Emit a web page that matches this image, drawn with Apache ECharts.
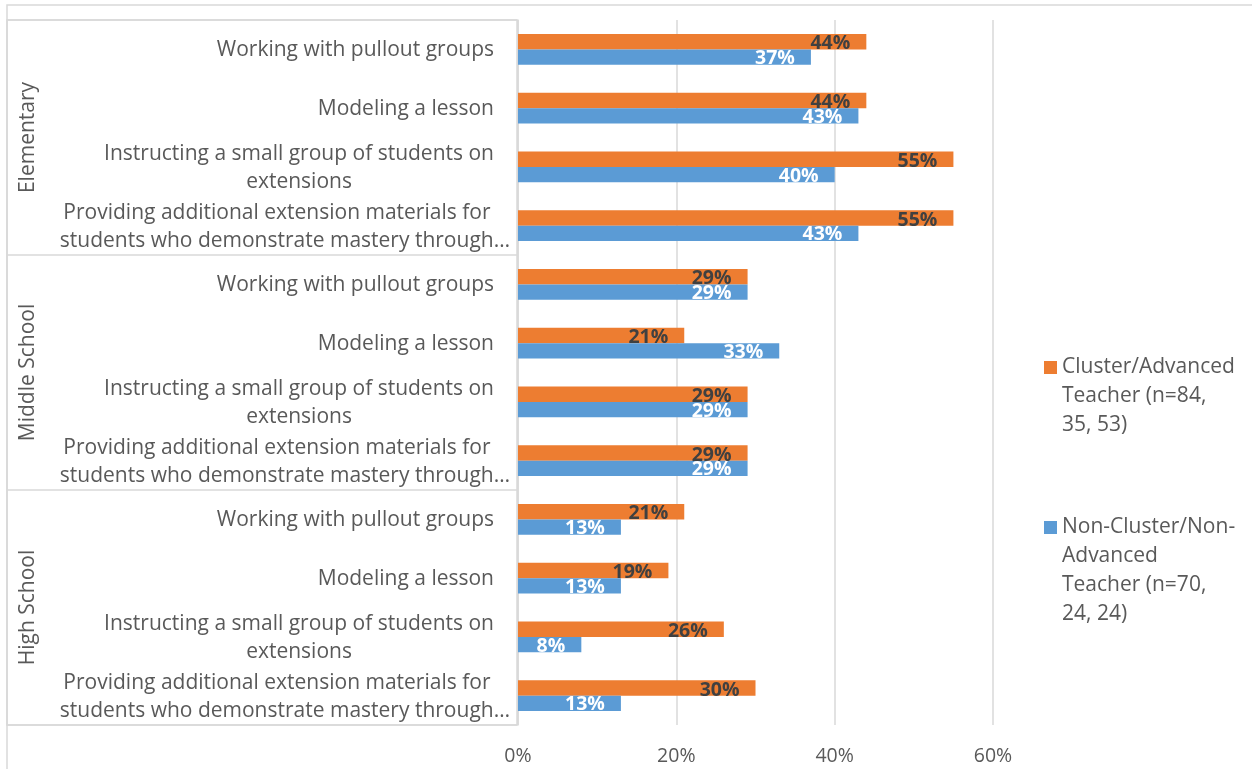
<!DOCTYPE html>
<html><head><meta charset="utf-8">
<script src="https://cdn.jsdelivr.net/npm/echarts@6/dist/echarts.min.js"></script>
<style>html,body{margin:0;padding:0;background:#fff}#c{width:1252px;height:769px}</style>
</head><body><div id="c"></div>
<script>
const categories = [
  'Working with pullout groups',
  'Modeling a lesson',
  'Instructing a small group of students on\nextensions',
  'Providing additional extension materials for\nstudents who demonstrate mastery through…',
  'Working with pullout groups',
  'Modeling a lesson',
  'Instructing a small group of students on\nextensions',
  'Providing additional extension materials for\nstudents who demonstrate mastery through…',
  'Working with pullout groups',
  'Modeling a lesson',
  'Instructing a small group of students on\nextensions',
  'Providing additional extension materials for\nstudents who demonstrate mastery through…'
];
const groups = ['Elementary', 'Middle School', 'High School'];
const seriesNames = ['Cluster/Advanced Teacher (n=84, 35, 53)', 'Non-Cluster/Non-Advanced Teacher (n=70, 24, 24)'];
const legendLabels = ['Cluster/Advanced\nTeacher (n=84,\n35, 53)', 'Non-Cluster/Non-\nAdvanced\nTeacher (n=70,\n24, 24)'];
const clusterValues = [44, 44, 55, 55, 29, 21, 29, 29, 21, 19, 26, 30];
const nonClusterValues = [37, 43, 40, 43, 29, 33, 29, 29, 13, 13, 8, 13];
const xTicks = { min: 0, max: 60, interval: 20 };

const FONT = 'Open Sans';
const TXT = '#595959';
const GRIDC = '#d9d9d9';
const LH = 29;
const chart = echarts.init(document.getElementById('c'), null, { renderer: 'canvas' });
function lines(s) { return s.split('\n').length; }
// first text line of each legend entry sits level with its square, as in the source
function legendText(name) {
  const t = legendLabels[seriesNames.indexOf(name)];
  return '\n'.repeat(lines(t) - 1) + t;
}
// truncated lines (ending in …) spill a little past the label box, as in the source
function catText(v) {
  return v.split('\n').map(s => (s.endsWith('…') ? '{e|' : '{c|') + s + '}').join('\n');
}
const catStyle = { align: 'center', color: TXT, fontSize: 21, fontFamily: FONT, lineHeight: 28, padding: [2, 0, 0, 0] };
const option = {
  animation: false,
  textStyle: { fontFamily: FONT },
  graphic: [{
    type: 'rect', silent: true, z: -10,
    shape: { x: 7, y: 5, width: 1400, height: 900 },
    style: { fill: 'none', stroke: GRIDC, lineWidth: 1.5 }
  }],
  grid: [
    { left: 518, top: 20, width: 475, height: 705 },
    { left: 7, top: 20, width: 510, height: 705, show: true, borderColor: GRIDC, borderWidth: 1.5, backgroundColor: 'transparent' }
  ],
  xAxis: [
    { type: 'value', gridIndex: 0, min: xTicks.min, max: xTicks.max, interval: xTicks.interval,
      axisLabel: { formatter: '{value}%', color: TXT, fontSize: 19.5, margin: 21, fontFamily: FONT },
      axisLine: { show: false }, axisTick: { show: false },
      splitLine: { show: true, lineStyle: { color: GRIDC, width: 1.5 } } },
    { type: 'value', gridIndex: 1, show: false }
  ],
  yAxis: [
    { type: 'category', gridIndex: 0, data: categories, inverse: true,
      axisLine: { show: true, lineStyle: { color: GRIDC, width: 1.5 } }, axisTick: { show: false },
      splitLine: { show: false },
      axisLabel: { interval: 0, margin: 24, align: 'right', formatter: catText,
        rich: { c: catStyle, e: Object.assign({}, catStyle, { padding: [2, -16, 0, 0] }) } } },
    { type: 'category', gridIndex: 1, data: groups, inverse: true, position: 'left', offset: -32,
      axisLine: { show: false }, axisTick: { show: false },
      splitLine: { show: true, interval: 0, lineStyle: { color: GRIDC, width: 1.5 } },
      axisLabel: { interval: 0, rotate: 90, margin: 0, color: TXT, fontSize: 21, fontFamily: FONT } }
  ],
  legend: {
    orient: 'vertical', left: 1044, top: 295, padding: 0,
    itemWidth: 13, itemHeight: 13, itemGap: -14, icon: 'rect',
    data: seriesNames,
    formatter: legendText,
    textStyle: { color: TXT, fontSize: 21, lineHeight: LH, fontFamily: FONT }
  },
  series: [
    { name: seriesNames[0], type: 'bar', xAxisIndex: 0, yAxisIndex: 0, data: clusterValues,
      barGap: '0%', barCategoryGap: '48%', itemStyle: { color: '#ED7D31' },
      label: { show: true, position: 'insideRight', distance: 16, offset: [0, 2], formatter: '{c}%',
        color: '#404040', fontWeight: 'bold', fontSize: 19.5, fontFamily: FONT } },
    { name: seriesNames[1], type: 'bar', xAxisIndex: 0, yAxisIndex: 0, data: nonClusterValues,
      barGap: '0%', barCategoryGap: '48%', itemStyle: { color: '#5B9BD5' },
      label: { show: true, position: 'insideRight', distance: 16, offset: [0, 1.5], formatter: '{c}%',
        color: '#ffffff', fontWeight: 'bold', fontSize: 19.5, fontFamily: FONT } }
  ]
};
chart.setOption(option);
</script>
</body></html>
